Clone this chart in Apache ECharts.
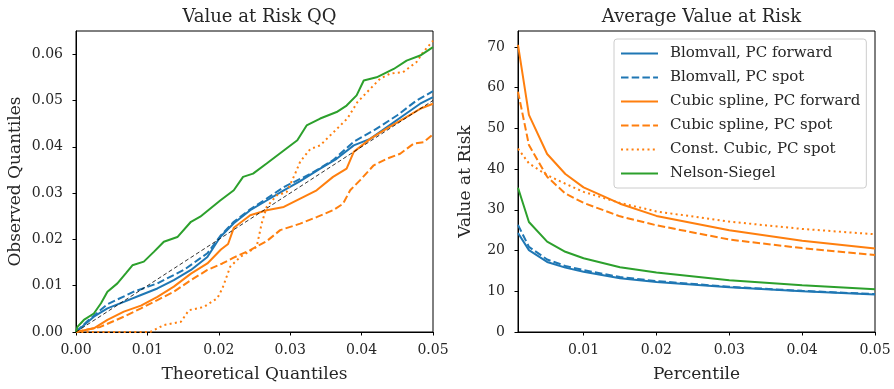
<!DOCTYPE html>
<html><head><meta charset="utf-8">
<script src="https://cdn.jsdelivr.net/npm/echarts@6/dist/echarts.min.js"></script>
<style>html,body{margin:0;padding:0;background:#fff}#c{width:894px;height:389px}</style>
</head><body><div id="c"></div>
<script>
// ---- Data: left panel (QQ), [theoretical, observed] pairs ----
const qqBlomvallFwd = [[0,0],[0.0025,0.0033],[0.0044,0.0051],[0.0067,0.0065],[0.0091,0.008],[0.0114,0.0094],[0.0137,0.0112],[0.0161,0.0134],[0.0184,0.0162],[0.0202,0.0205],[0.0221,0.0235],[0.0244,0.0263],[0.0267,0.0284],[0.0291,0.0306],[0.0314,0.0326],[0.0342,0.0353],[0.0365,0.0374],[0.0389,0.0403],[0.0412,0.0417],[0.0435,0.0442],[0.0459,0.0468],[0.0482,0.0493],[0.05,0.0507]];
const qqBlomvallSpot = [[0,0],[0.0015,0.0022],[0.0044,0.006],[0.0081,0.0087],[0.0114,0.0105],[0.0151,0.0134],[0.0184,0.017],[0.0203,0.0209],[0.0221,0.0238],[0.0244,0.0265],[0.0267,0.0288],[0.0291,0.0313],[0.0329,0.0342],[0.036,0.0371],[0.0389,0.0411],[0.0421,0.0439],[0.045,0.0468],[0.0477,0.05],[0.05,0.052]];
const qqCubicFwd = [[0,0],[0.0025,0.0008],[0.0044,0.0026],[0.0067,0.0044],[0.0091,0.0057],[0.0114,0.0076],[0.0137,0.0098],[0.0161,0.0126],[0.0184,0.0148],[0.0203,0.0178],[0.0213,0.019],[0.0221,0.0225],[0.0244,0.0252],[0.0267,0.0263],[0.0291,0.027],[0.0314,0.0288],[0.0337,0.0306],[0.036,0.0335],[0.0379,0.0353],[0.0389,0.0389],[0.0412,0.0417],[0.0435,0.0439],[0.0459,0.0461],[0.0482,0.0482],[0.05,0.0493]];
const qqCubicSpot = [[0,0],[0.0034,0.0011],[0.0067,0.0033],[0.0091,0.0051],[0.0114,0.0069],[0.0137,0.0087],[0.0161,0.0112],[0.0184,0.0134],[0.0205,0.0148],[0.022,0.016],[0.0244,0.0177],[0.0267,0.0196],[0.0286,0.022],[0.0314,0.0234],[0.0337,0.0248],[0.036,0.0263],[0.0374,0.0277],[0.0384,0.0306],[0.0398,0.0328],[0.0417,0.036],[0.0435,0.0374],[0.0454,0.0385],[0.0473,0.0407],[0.0487,0.041],[0.05,0.0427]];
const qqConstCubicSpot = [[0,0],[0.0104,0],[0.0123,0.0015],[0.0147,0.0022],[0.0158,0.0047],[0.0179,0.0054],[0.0198,0.0073],[0.0205,0.0094],[0.0216,0.0141],[0.023,0.0162],[0.0244,0.0175],[0.0253,0.0184],[0.026,0.0234],[0.0267,0.027],[0.0281,0.0295],[0.0295,0.0302],[0.0307,0.0342],[0.0314,0.0368],[0.0328,0.0395],[0.0342,0.0403],[0.0361,0.0432],[0.038,0.0461],[0.0394,0.0496],[0.0412,0.0525],[0.0426,0.0547],[0.044,0.0558],[0.0458,0.0561],[0.0477,0.0583],[0.0486,0.0604],[0.05,0.0629]];
const qqNelsonSiegel = [[0,0],[0.0002,0.0011],[0.0011,0.0026],[0.0025,0.004],[0.0035,0.0062],[0.0044,0.0087],[0.0058,0.0105],[0.007,0.0127],[0.0079,0.0144],[0.0095,0.0152],[0.0109,0.0173],[0.0123,0.0195],[0.0142,0.0205],[0.0161,0.0238],[0.0174,0.0249],[0.0202,0.0284],[0.0221,0.0306],[0.0234,0.0335],[0.0248,0.0342],[0.0267,0.0364],[0.0291,0.0392],[0.031,0.0414],[0.0323,0.0446],[0.0342,0.0461],[0.0365,0.0475],[0.0379,0.0489],[0.0393,0.0511],[0.0403,0.0543],[0.0421,0.055],[0.0445,0.0568],[0.0463,0.0586],[0.0482,0.0597],[0.05,0.0615]];
const diagonal = [[0,0],[0.05,0.05]];

// ---- Data: right panel (Average VaR) ----
const percentiles = [0.001,0.0025,0.005,0.0075,0.01,0.015,0.02,0.03,0.04,0.05];
const varBlomvallFwd   = [24.3,20.1,17.2,15.8,14.8,13.2,12.3,11.0,10.0,9.2];
const varBlomvallSpot  = [26.3,20.9,17.8,16.2,15.2,13.5,12.5,11.1,10.1,9.3];
const varCubicFwd      = [70.5,53.3,43.7,38.8,35.5,31.5,28.5,25.0,22.4,20.5];
const varCubicSpot     = [59.0,45.9,38.1,34.0,31.7,28.4,26.2,22.7,20.6,18.9];
const varConstCubic    = [45.0,41.4,38.5,36.4,34.4,31.7,29.6,27.1,25.3,24.0];
const varNelsonSiegel  = [35.4,27.0,22.2,19.7,18.1,15.9,14.6,12.7,11.5,10.5];

// ---- Tick labels ----
const leftXTicks = [0,0.01,0.02,0.03,0.04,0.05];
const leftYTicks = [0,0.01,0.02,0.03,0.04,0.05,0.06];
const rightXTicks = [0.01,0.02,0.03,0.04,0.05];
const rightYTicks = [0,10,20,30,40,50,60,70];

const names = ['Blomvall, PC forward','Blomvall, PC spot','Cubic spline, PC forward','Cubic spline, PC spot','Const. Cubic, PC spot','Nelson-Siegel'];
const BLUE='#1f77b4', ORANGE='#ff7f0e', GREEN='#2ca02c';
const FONT='DejaVu Serif';
const TXT='#262626';
const DASH=[7.5,3.2], DOT=[2,3.3];
const styles = [
  {color:BLUE,type:'solid'},{color:BLUE,type:DASH},
  {color:ORANGE,type:'solid'},{color:ORANGE,type:DASH},{color:ORANGE,type:DOT},
  {color:GREEN,type:'solid'}];

function axisCommon(ticks, fmt, isY){
  return {
    axisLine:{show:true,onZero:false,lineStyle:{color:'#000',width:1}},
    axisTick:{show:true,inside:false,length:3.5,lineStyle:{color:'#000',width:1},customValues:ticks},
    axisLabel:{color:TXT,fontFamily:FONT,fontSize:14,margin:isY?13:11,customValues:ticks,formatter:fmt},
    splitLine:{show:false},
    nameTextStyle:{color:TXT,fontFamily:FONT,fontSize:17}
  };
}
const f2 = v => Number(v).toFixed(2);
const f0 = v => String(Math.round(v));

const qqData=[qqBlomvallFwd,qqBlomvallSpot,qqCubicFwd,qqCubicSpot,qqConstCubicSpot,qqNelsonSiegel];
const varData=[varBlomvallFwd,varBlomvallSpot,varCubicFwd,varCubicSpot,varConstCubic,varNelsonSiegel];

const series=[];
names.forEach((n,i)=>{
  series.push({name:n,type:'line',xAxisIndex:0,yAxisIndex:0,data:qqData[i],symbol:'none',
    lineStyle:{color:styles[i].color,type:styles[i].type,width:2,cap:'butt'},itemStyle:{color:styles[i].color},z:3});
});
series.push({name:'diag',type:'line',xAxisIndex:0,yAxisIndex:0,data:diagonal,symbol:'none',
  lineStyle:{color:'#000',type:[4,2.5],width:0.8},z:4,silent:true});
names.forEach((n,i)=>{
  series.push({name:n,type:'line',xAxisIndex:1,yAxisIndex:1,data:percentiles.map((p,k)=>[p,varData[i][k]]),symbol:'none',
    lineStyle:{color:styles[i].color,type:styles[i].type,width:2,cap:'butt'},itemStyle:{color:styles[i].color},z:3});
});

const option={
  animation:false,
  backgroundColor:'#fff',
  title:[
    {text:'Value at Risk QQ',left:254.5,top:3,textAlign:'center',textStyle:{fontFamily:FONT,fontSize:18,fontWeight:'normal',color:TXT}},
    {text:'Average Value at Risk',left:696.5,top:3,textAlign:'center',textStyle:{fontFamily:FONT,fontSize:18,fontWeight:'normal',color:TXT}}
  ],
  grid:[
    {left:76,top:31,width:357,height:301,show:true,borderColor:'#000',borderWidth:1,backgroundColor:'transparent'},
    {left:518,top:31,width:357,height:301,show:true,borderColor:'#000',borderWidth:1,backgroundColor:'transparent'}
  ],
  xAxis:[
    Object.assign({type:'value',gridIndex:0,min:0,max:0.05,name:'Theoretical Quantiles',nameLocation:'middle',nameGap:34},axisCommon(leftXTicks,f2,false)),
    Object.assign({type:'value',gridIndex:1,min:0.001,max:0.05,name:'Percentile',nameLocation:'middle',nameGap:34},axisCommon(rightXTicks,f2,false))
  ],
  yAxis:[
    Object.assign({type:'value',gridIndex:0,min:0,max:0.065,name:'Observed Quantiles',nameLocation:'middle',nameGap:52},axisCommon(leftYTicks,f2,true)),
    Object.assign({type:'value',gridIndex:1,min:0,max:73.9,name:'Value at Risk',nameLocation:'middle',nameGap:44},axisCommon(rightYTicks,f0,true))
  ],
  legend:{
    data:names,left:614,top:39,orient:'vertical',
    itemWidth:37,itemHeight:12,itemGap:9,
    padding:[7,6,7,6],
    backgroundColor:'rgba(255,255,255,0.8)',borderColor:'#cccccc',borderWidth:1,borderRadius:3,
    itemStyle:{opacity:0},
    textStyle:{fontFamily:FONT,fontSize:15,color:TXT,padding:[0,0,0,7]},
    selectedMode:false
  },
  series:series
};
const chart=echarts.init(document.getElementById('c'),null,{renderer:'canvas'});
chart.setOption(option);
</script></body></html>
